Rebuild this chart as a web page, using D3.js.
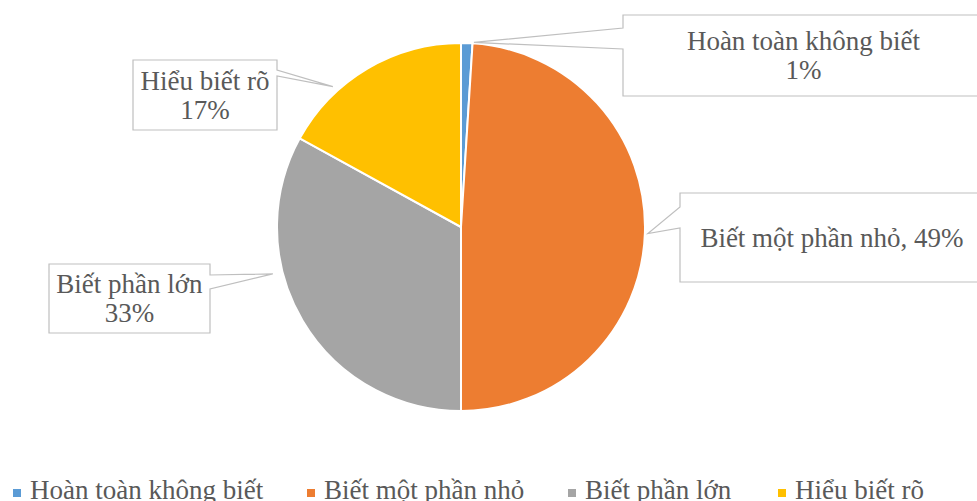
<!DOCTYPE html>
<html>
<head>
<meta charset="utf-8">
<script src="https://cdn.jsdelivr.net/npm/d3@7"></script>
<style>
  body { margin: 0; background: #fff; }
  svg { display: block; }
</style>
</head>
<body>
<div id="chart"></div>
<script>
// data
var categories = ["Hoàn toàn không biết", "Biết một phần nhỏ", "Biết phần lớn", "Hiểu biết rõ"];
var values = [1, 49, 33, 17];
var colors = ["#5B9BD5", "#ED7D31", "#A5A5A5", "#FFC000"];
var labelLines = [["Hoàn toàn không biết", "1%"], ["Biết một phần nhỏ, 49%"], ["Biết phần lớn", "33%"], ["Hiểu biết rõ", "17%"]];

var W = 977, H = 501;
var cx = 461, cy = 227, R = 184;
var font = "'Liberation Serif'";
var fs = 27;
var txtColor = "#595959";

// callout boxes (layout only)
var callouts = [
  {x: 623, y: 15, w: 361, h: 81, side: "left", b1: 28, b2: 49, tipA: 4, tipR: 185},
  {x: 680, y: 193, w: 304, h: 89, side: "left", b1: 207, b2: 228, tipA: 92, tipR: 187},
  {x: 49, y: 264, w: 161, h: 69, side: "right", b1: 275, b2: 289, tipA: 256, tipR: 194},
  {x: 133, y: 60, w: 144, h: 70, side: "right", b1: 70, b2: 76, tipA: 317.6, tipR: 190}
];

var svg = d3.select("#chart").append("svg").attr("width", W).attr("height", H);

var pie = d3.pie().sort(null).value(function(d){ return d; });
var arcs = pie(values);
var arc = d3.arc().innerRadius(0).outerRadius(R);

var g = svg.append("g").attr("transform", "translate(" + cx + "," + cy + ")");
g.selectAll("path")
  .data(arcs)
  .enter()
  .append("path")
  .attr("d", arc)
  .attr("fill", function(d, i){ return colors[i]; })
  .attr("stroke", "#fff")
  .attr("stroke-width", 2);

// callouts
callouts.forEach(function(c, i){
  var a = c.tipA * Math.PI / 180;
  var tx = cx + c.tipR * Math.sin(a), ty = cy - c.tipR * Math.cos(a);
  var p = d3.path();
  if (c.side == "left") {
    p.moveTo(c.x, c.y);
    p.lineTo(c.x + c.w, c.y);
    p.lineTo(c.x + c.w, c.y + c.h);
    p.lineTo(c.x, c.y + c.h);
    p.lineTo(c.x, c.b2);
    p.lineTo(tx, ty);
    p.lineTo(c.x, c.b1);
    p.closePath();
  } else {
    var rx = c.x + c.w;
    p.moveTo(c.x, c.y);
    p.lineTo(rx, c.y);
    p.lineTo(rx, c.b1);
    p.lineTo(tx, ty);
    p.lineTo(rx, c.b2);
    p.lineTo(rx, c.y + c.h);
    p.lineTo(c.x, c.y + c.h);
    p.closePath();
  }
  svg.append("path")
    .attr("d", p.toString())
    .attr("fill", "#fff")
    .attr("stroke", "#BFBFBF")
    .attr("stroke-width", 1.2);

  var lines = labelLines[i];
  var lh = 29;
  var midY = c.y + c.h / 2;
  var firstBase = midY - (lines.length - 1) * lh / 2 + 9;
  var t = svg.append("text")
    .style("font-family", font)
    .style("font-size", fs + "px")
    .attr("fill", txtColor)
    .attr("text-anchor", "middle");
  lines.forEach(function(s, k){
    t.append("tspan")
      .attr("x", c.x + c.w / 2)
      .attr("y", firstBase + k * lh)
      .text(s);
  });
});

// legend
var legendX = [13, 307, 568, 778];
var leg = svg.append("g");
categories.forEach(function(name, i){
  leg.append("rect")
    .attr("x", legendX[i]).attr("y", 489)
    .attr("width", 8).attr("height", 8)
    .attr("fill", colors[i]);
  leg.append("text")
    .attr("x", legendX[i] + 17)
    .attr("y", 499)
    .style("font-family", font)
    .style("font-size", fs + "px")
    .attr("fill", txtColor)
    .text(name);
});
</script>
</body>
</html>
